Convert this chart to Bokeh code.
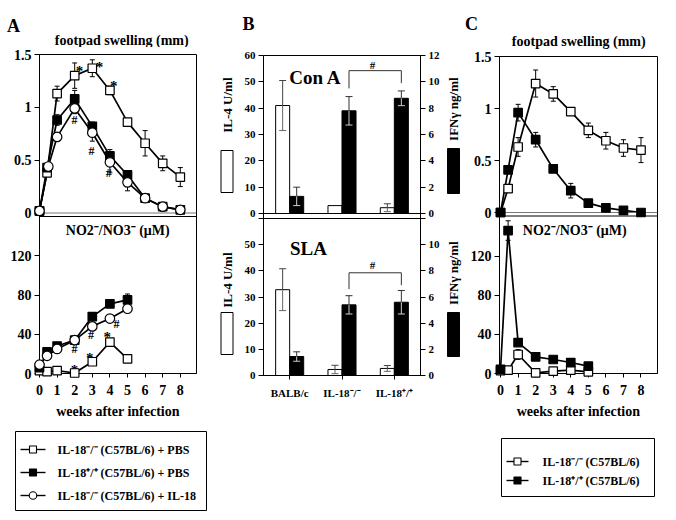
import math
from bokeh.plotting import figure
from bokeh.models import (Range1d, FactorRange, LinearAxis, FixedTicker, Whisker, TeeHead,
                          Label, Span, BoxAnnotation, ColumnDataSource)
from bokeh.layouts import row, column
from bokeh.core.properties import value
from bokeh.embed import file_html
from bokeh.resources import INLINE

FONT = "Liberation Serif"

# ------------------------------------------------------------------ data
weeks = [0, 0.43, 1, 2, 3, 4, 5, 6, 7, 8]
weeks_il18 = [0, 0.5, 1, 2, 3, 4, 5, 6, 7, 8]
weeks_no = [0, 0.43, 1, 2, 3, 4, 5]
week_ticks = [0, 1, 2, 3, 4, 5, 6, 7, 8]
fp_ticks = [0, 0.5, 1, 1.5]
fp_tick_labels = ["0", "0.5", "1", "1.5"]
no_ticks = [0, 40, 80, 120]
no_tick_labels = ["0", "40", "80", "120"]

# Panel A - footpad swelling (mm)
a_fp_ko_pbs = [0.02, 0.38, 1.13, 1.30, 1.37, 1.16, 0.86, 0.66, 0.47, 0.34]
a_fp_ko_pbs_err = [0.0, 0.03, 0.07, 0.12, 0.08, 0.04, 0.03, 0.12, 0.07, 0.09]
a_fp_wt_pbs = [0.02, 0.43, 0.88, 1.08, 0.82, 0.54, 0.36, 0.14, 0.06, 0.03]
a_fp_wt_pbs_err = [0.0, 0.02, 0.05, 0.08, 0.04, 0.06, 0.03, 0.02, 0.01, 0.01]
a_fp_ko_il18 = [0.02, 0.44, 0.72, 0.99, 0.76, 0.48, 0.29, 0.14, 0.06, 0.03]
a_fp_ko_il18_err = [0.0, 0.02, 0.04, 0.05, 0.08, 0.10, 0.08, 0.02, 0.01, 0.01]
# Panel A - NO2-/NO3- (uM)
a_no_ko_pbs = [3, 2, 3, 0.5, 12, 32, 15]
a_no_ko_pbs_err = [0, 0, 0, 0, 1, 2, 1]
a_no_wt_pbs = [6, 22, 28, 34, 58, 71, 75]
a_no_wt_pbs_err = [0, 1, 1, 2, 2, 2, 6]
a_no_ko_il18 = [9, 18, 25, 34, 48, 56, 66]
a_no_ko_il18_err = [0, 1, 1, 1, 2, 2, 2]
# significance marks in panel A
a_fp_star_x = [2.27, 3.41, 4.22]
a_fp_star_y = [1.38, 1.42, 1.24]
a_fp_hash_x = [1.99, 2.95, 3.94]
a_fp_hash_y = [0.88, 0.59, 0.38]
a_no_star_x = [1.99, 2.86, 3.85]
a_no_star_y = [8, 20, 41]
a_no_hash_x = [1.99, 2.93, 4.38]
a_no_hash_y = [25, 39, 50]

# Panel B - cytokines (IL-4 U/ml, IFN-gamma ng/ml)
b_cats = ["BALB/c", "IL-18\u207b/\u207b", "IL-18\u207a/\u207a"]
b_cona_il4 = [41.0, 3.0, 2.2]
b_cona_il4_err = [9.5, 0.0, 1.5]
b_cona_ifn = [1.3, 7.8, 8.75]
b_cona_ifn_err = [0.7, 1.08, 0.56]
b_sla_il4 = [32.8, 2.3, 2.7]
b_sla_il4_err = [8.0, 1.6, 1.1]
b_sla_ifn = [1.45, 5.4, 5.6]
b_sla_ifn_err = [0.36, 0.7, 0.9]
b_cona_bracket = [9.5, 10.85, 10.85, 9.9]
b_sla_bracket = [6.6, 7.85, 7.85, 6.9]
il4_ticks = [0, 10, 20, 30, 40, 50, 60]
ifn_ticks = [0, 2, 4, 6, 8, 10, 12]

# Panel C
c_fp_ko = [0.0, 0.23, 0.63, 1.24, 1.14, 0.97, 0.79, 0.69, 0.62, 0.60]
c_fp_ko_err = [0.0, 0.03, 0.09, 0.13, 0.07, 0.03, 0.07, 0.08, 0.08, 0.12]
c_fp_wt = [0.0, 0.41, 0.96, 0.70, 0.42, 0.21, 0.09, 0.045, 0.02, 0.0]
c_fp_wt_err = [0.0, 0.02, 0.08, 0.07, 0.03, 0.07, 0.02, 0.01, 0.01, 0.01]
c_no_ko = [3, 3.4, 19.4, 0.7, 2.4, 3.4, 1.7]
c_no_ko_err = [0, 0, 5, 0, 1, 1, 1]
c_no_wt = [4.3, 146, 31.6, 17, 14.3, 11.2, 7.5]
c_no_wt_err = [0, 10, 3, 2, 2, 2, 2]

lab_ko_pbs = "IL-18\u207b/\u207b (C57BL/6) + PBS"
lab_wt_pbs = "IL-18\u207a/\u207a (C57BL/6) + PBS"
lab_ko_il18 = "IL-18\u207b/\u207b (C57BL/6) + IL-18"
lab_ko = "IL-18\u207b/\u207b (C57BL/6)"
lab_wt = "IL-18\u207a/\u207a (C57BL/6)"


# ------------------------------------------------------------------ helpers
class Sub:
    """one stacked sub-panel inside a shared frame (zero pixel row, px per unit)"""
    def __init__(self, zero_px, ppu, fb, ft):
        self.zero, self.ppu, self.fb, self.ft = zero_px, ppu, fb, ft

    def u(self, v):  # value -> primary axis units (pixels above frame bottom)
        return (self.fb - self.zero) + v * self.ppu

    def rng(self):
        start = -(self.fb - self.zero) / self.ppu
        return Range1d(start, start + (self.fb - self.ft) / self.ppu)


class XMap:
    def __init__(self, l, r, x0, x1):
        self.l, self.r, self.x0, self.x1 = l, r, x0, x1

    def x(self, px):
        return self.x0 + (px - self.l) / (self.r - self.l) * (self.x1 - self.x0)


def unalign(p):
    try:
        p.frame_align = False
    except Exception:
        pass


def make_fig(w, h, ml, mr, mt, mb, x_range):
    p = figure(width=w, height=h, x_range=x_range, y_range=Range1d(0, h - mt - mb + 0.01),
               output_backend="svg", toolbar_location=None, title=None,
               min_border_left=ml, min_border_right=mr,
               min_border_top=mt, min_border_bottom=mb)
    p.grid.visible = False
    p.outline_line_color = "black"
    p.outline_line_alpha = 1
    p.outline_line_width = 1
    p.background_fill_color = "white"
    p.border_fill_color = "white"
    unalign(p)
    return p


def text_fig(x0, y0, w, h):
    """a plain strip whose data units are page pixels (y stored negated: y = -py)"""
    p = figure(width=w, height=h, x_range=Range1d(x0, x0 + w), y_range=Range1d(-(y0 + h), -y0),
               output_backend="svg", toolbar_location=None, title=None,
               x_axis_location=None, y_axis_location=None,
               min_border_left=0, min_border_right=0, min_border_top=0, min_border_bottom=0)
    p.grid.visible = False
    p.outline_line_color = None
    p.background_fill_color = "white"
    p.border_fill_color = "white"
    unalign(p)
    return p


def style_axis(ax, size, tick_out=5, standoff=3):
    ax.major_label_text_font = FONT
    ax.major_label_text_font_style = "bold"
    ax.major_label_text_font_size = size
    ax.major_label_text_color = "black"
    ax.minor_tick_line_color = None
    ax.major_tick_out = tick_out
    ax.major_tick_in = 0
    ax.axis_line_color = "black"
    ax.major_tick_line_color = "black"
    ax.major_label_standoff = standoff
    ax.axis_label_text_font = FONT
    ax.axis_label_text_font_style = "bold"
    ax.axis_label_text_font_size = "14px"
    ax.axis_label_text_color = "black"


def stacked_ticks(ax, parts):
    ticks, over = [], {}
    for sub, vals, labs in parts:
        for v, lab in zip(vals, labs):
            t = sub.u(v)
            ticks.append(t)
            over[t] = lab
    ax.ticker = FixedTicker(ticks=ticks)
    ax.major_label_overrides = over


def add_text(p, x, y, text, size, angle=0.0, style="bold", align="center"):
    p.add_layout(Label(x=x, y=y, text=text, text_font=FONT, text_font_style=style,
                       text_font_size=size, text_align=align, text_baseline="middle",
                       angle=angle, text_color="black"))


def page_text(p, px, py, text, size, angle=0.0, align="center"):
    add_text(p, px, -py, text, size, angle=angle, align=align)


def page_box(p, l, r, t, b, fill, level="annotation"):
    p.add_layout(BoxAnnotation(left=l, right=r, top=-t, bottom=-b, fill_color=fill,
                               fill_alpha=1, line_color="black", line_alpha=1, line_width=1,
                               level=level))


def series(p, xs, ys, errs, marker, fill, size, rn):
    up = [y + e for y, e in zip(ys, errs)]
    lo = [y - e for y, e in zip(ys, errs)]
    src = ColumnDataSource(dict(x=xs, y=ys, up=up, lo=lo))
    p.add_layout(Whisker(source=src, base="x", upper="up", lower="lo", dimension="height",
                         line_color="black", line_width=1, y_range_name=rn,
                         upper_head=TeeHead(size=5, line_color="black", line_width=1),
                         lower_head=TeeHead(size=5, line_color="black", line_width=1)))
    p.line("x", "y", source=src, line_color="black", line_width=1.7, y_range_name=rn)
    sc = p.scatter("x", "y", source=src, marker=marker, size=size, fill_color=fill,
                   line_color="black", line_width=1.2, y_range_name=rn)
    sc.level = "overlay"


def sig(p, xs, ys, sym, size, yoff, rn):
    src = ColumnDataSource(dict(x=xs, y=ys, t=[sym] * len(xs)))
    p.text("x", "y", text="t", source=src, text_font=value(FONT), text_font_style="bold",
           text_font_size=size, text_align="center", text_baseline="middle",
           y_offset=yoff, text_color="black", y_range_name=rn)


def legend_fig(x0, y0, w, h, entries, box, rows_y, glyph_x, text_x):
    """a key drawn in page-pixel units: box, line+marker swatches and labels"""
    p = text_fig(x0, y0, w, h)
    page_box(p, box[0], box[1], box[2], box[3], "white", level="underlay")
    for (lab, marker, fill, size), yy in zip(entries, rows_y):
        seg = p.segment(x0=[glyph_x[0]], y0=[-yy], x1=[glyph_x[1]], y1=[-yy],
                        line_color="black", line_width=1.4)
        seg.level = "overlay"
        mk = p.scatter(x=[(glyph_x[0] + glyph_x[1]) / 2], y=[-yy], marker=marker, size=size,
                       fill_color=fill, line_color="black", line_width=1.1)
        mk.level = "overlay"
        page_text(p, text_x, yy, lab, "12px", align="left")
    return p


# ------------------------------------------------------------------ panel A (x 0..216)
A_FT, A_FB = 54, 373
ax_a = XMap(39, 196, 0, 8.92)
sa_fp = Sub(212.5, (212.5 - A_FT) / 1.5, A_FB, A_FT)
sa_no = Sub(373, 0.98125, A_FB, A_FT)

ta = text_fig(0, 0, 216, 47)
page_text(ta, 13, 25, "A", "18px")
page_text(ta, 123, 40, "footpad swelling  (mm)", "14px")

pa = make_fig(216, 381, 39, 20, A_FT - 47, 428 - A_FB, Range1d(ax_a.x0, ax_a.x1))
pa.extra_y_ranges = {"fp": sa_fp.rng(), "no": sa_no.rng()}
style_axis(pa.yaxis[0], "14px")
style_axis(pa.xaxis[0], "14px", tick_out=4, standoff=7)
stacked_ticks(pa.yaxis[0], [(sa_fp, fp_ticks, fp_tick_labels), (sa_no, no_ticks, no_tick_labels)])
pa.xaxis.ticker = FixedTicker(ticks=week_ticks)
pa.xaxis.axis_label = "weeks after infection"
pa.xaxis.axis_label_standoff = 6
pa.add_layout(Span(location=0, dimension="width", line_color="#777777", line_width=1,
                   y_range_name="fp"))
pa.add_layout(Span(location=160, dimension="width", line_color="black", line_width=1,
                   y_range_name="no"))
series(pa, weeks, a_fp_ko_pbs, a_fp_ko_pbs_err, "square", "white", 8.5, "fp")
series(pa, weeks, a_fp_wt_pbs, a_fp_wt_pbs_err, "square", "black", 8.5, "fp")
series(pa, weeks_il18, a_fp_ko_il18, a_fp_ko_il18_err, "circle", "white", 9.5, "fp")
sig(pa, a_fp_star_x, a_fp_star_y, "*", "15px", 4, "fp")
sig(pa, a_fp_hash_x, a_fp_hash_y, "#", "12px", 0, "fp")
series(pa, weeks_no, a_no_ko_pbs, a_no_ko_pbs_err, "square", "white", 8.5, "no")
series(pa, weeks_no, a_no_wt_pbs, a_no_wt_pbs_err, "square", "black", 8.5, "no")
series(pa, weeks_no, a_no_ko_il18, a_no_ko_il18_err, "circle", "white", 9.5, "no")
sig(pa, a_no_star_x, a_no_star_y, "*", "15px", 4, "no")
sig(pa, a_no_hash_x, a_no_hash_y, "#", "12px", 0, "no")
add_text(pa, ax_a.x(119), A_FB - 230, "NO2\u207b/NO3\u207b  (\u03bcM)", "14px")

la = legend_fig(0, 428, 216, 92,
                [(lab_ko_pbs, "square", "white", 7), (lab_wt_pbs, "square", "black", 7),
                 (lab_ko_il18, "circle", "white", 7.5)],
                (15, 206, 431, 510), [449, 472, 495], (20, 45), 57)

col_a = column(ta, pa, la)

# ------------------------------------------------------------------ panel B (x 216..464)
B_FT, B_FB = 55, 375
ax_b = XMap(263, 420, 0, 3)
sb_il4_t = Sub(213, (213 - B_FT) / 60, B_FB, B_FT)
sb_ifn_t = Sub(213, (213 - B_FT) / 12, B_FB, B_FT)
sb_il4_b = Sub(375, (375 - 218) / 60, B_FB, B_FT)
sb_ifn_b = Sub(375, (375 - 218) / 12, B_FB, B_FT)

tb = text_fig(238, 0, 206, 47)
page_text(tb, 248, 23, "B", "18px")

pb = make_fig(206, 473, 263 - 238, 444 - 420, B_FT - 47, 520 - B_FB, FactorRange(*b_cats))
pb.extra_y_ranges = {"il4_t": sb_il4_t.rng(), "ifn_t": sb_ifn_t.rng(),
                     "il4_b": sb_il4_b.rng(), "ifn_b": sb_ifn_b.rng()}
pb.add_layout(LinearAxis(), "right")
style_axis(pb.yaxis[0], "11px", tick_out=5, standoff=3)
style_axis(pb.yaxis[1], "11px", tick_out=5, standoff=3)
style_axis(pb.xaxis[0], "11px", tick_out=4, standoff=7)
il4_labels_t = [str(v) for v in il4_ticks]
il4_labels_b = il4_labels_t[:-1] + [""]
ifn_labels_t = [str(v) for v in ifn_ticks]
ifn_labels_b = ifn_labels_t[:-1] + [""]
stacked_ticks(pb.yaxis[0], [(sb_il4_t, il4_ticks, il4_labels_t), (sb_il4_b, il4_ticks, il4_labels_b)])
stacked_ticks(pb.yaxis[1], [(sb_ifn_t, ifn_ticks, ifn_labels_t), (sb_ifn_b, ifn_ticks, ifn_labels_b)])
pb.add_layout(Span(location=0, dimension="width", line_color="black", line_width=1,
                   y_range_name="il4_t"))
pb.add_layout(Span(location=60, dimension="width", line_color="black", line_width=1,
                   y_range_name="il4_b"))

BW = 0.268
white_x = [i + 0.5 - BW / 2 for i in range(len(b_cats))]
black_x = [i + 0.5 + BW / 2 for i in range(len(b_cats))]


def bar_panel(p, il4, il4_err, ifn, ifn_err, bracket, rn_il4, rn_ifn):
    p.vbar(x=white_x, top=il4, bottom=0, width=BW, fill_color="white",
           line_color="black", line_width=1, y_range_name=rn_il4)
    p.vbar(x=black_x, top=ifn, bottom=0, width=BW, fill_color="black",
           line_color="black", line_width=1, y_range_name=rn_ifn)
    for xs, ys, es, cu, cd, rn in ((white_x, il4, il4_err, "#444444", "#666666", rn_il4),
                                   (black_x, ifn, ifn_err, "#333333", "#cfcfcf", rn_ifn)):
        keep = [i for i, e in enumerate(es) if e > 0]
        src = ColumnDataSource(dict(x=[xs[i] for i in keep], m=[ys[i] for i in keep],
                                    hi=[ys[i] + es[i] for i in keep],
                                    lo=[ys[i] - es[i] for i in keep]))
        p.add_layout(Whisker(source=src, base="x", lower="m", upper="hi", dimension="height",
                             line_color=cu, line_width=1, level="overlay", y_range_name=rn,
                             upper_head=TeeHead(size=7, line_color=cu, line_width=1),
                             lower_head=None))
        p.add_layout(Whisker(source=src, base="x", lower="lo", upper="m", dimension="height",
                             line_color=cd, line_width=1, level="overlay", y_range_name=rn,
                             lower_head=TeeHead(size=7, line_color=cd, line_width=1),
                             upper_head=None))
    bx = [black_x[1], black_x[1], black_x[2], black_x[2]]
    p.line(x=bx, y=bracket, line_color="#333333", line_width=1, y_range_name=rn_ifn)


bar_panel(pb, b_cona_il4, b_cona_il4_err, b_cona_ifn, b_cona_ifn_err, b_cona_bracket,
          "il4_t", "ifn_t")
bar_panel(pb, b_sla_il4, b_sla_il4_err, b_sla_ifn, b_sla_ifn_err, b_sla_bracket,
          "il4_b", "ifn_b")
add_text(pb, ax_b.x(315), B_FB - 77, "Con A", "19px")
add_text(pb, ax_b.x(372), B_FB - 64, "#", "11px")
add_text(pb, ax_b.x(308), B_FB - 248, "SLA", "19px")
add_text(pb, ax_b.x(372), B_FB - 264, "#", "11px")

tbl = text_fig(216, 0, 22, 520)
tbr = text_fig(444, 0, 20, 520)
for ty_l, ry_l, ty_r, ry_r in ((103, (150, 192), 107, (148, 193)),
                               (278, (312, 354), 271, (312, 356))):
    page_text(tbl, 226.5, ty_l, "IL-4  U/ml", "13px", angle=math.pi / 2)
    page_box(tbl, 220.5, 232.5, ry_l[0], ry_l[1], "white")
    page_text(tbr, 452.5, ty_r, "IFN\u03b3  ng/ml", "13px", angle=math.pi / 2)
    page_box(tbr, 447, 459, ry_r[0], ry_r[1], "black")

col_b = row(tbl, column(tb, pb), tbr)

# ------------------------------------------------------------------ panel C (x 464..676)
C_FT, C_FB = 56, 373
ax_c = XMap(499, 657, -0.06, 8.94)
sc_fp = Sub(212, (212 - C_FT) / 1.5, C_FB, C_FT)
sc_no = Sub(373, 0.979, C_FB, C_FT)

tc = text_fig(464, 0, 212, 49)
page_text(tc, 471, 23, "C", "18px")
page_text(tc, 580, 41, "footpad swelling  (mm)", "14px")

pc = make_fig(212, 379, 499 - 464, 676 - 657, C_FT - 49, 428 - C_FB, Range1d(ax_c.x0, ax_c.x1))
pc.extra_y_ranges = {"fp": sc_fp.rng(), "no": sc_no.rng()}
style_axis(pc.yaxis[0], "14px")
style_axis(pc.xaxis[0], "14px", tick_out=4, standoff=7)
stacked_ticks(pc.yaxis[0], [(sc_fp, fp_ticks, fp_tick_labels), (sc_no, no_ticks, no_tick_labels)])
pc.xaxis.ticker = FixedTicker(ticks=week_ticks)
pc.xaxis.axis_label = "weeks after infection"
pc.xaxis.axis_label_standoff = 6
pc.add_layout(Span(location=0, dimension="width", line_color="#777777", line_width=1,
                   y_range_name="fp"))
pc.add_layout(Span(location=C_FB - 215.5, dimension="width", line_color="black", line_width=1))
series(pc, weeks, c_fp_ko, c_fp_ko_err, "square", "white", 8.5, "fp")
series(pc, weeks, c_fp_wt, c_fp_wt_err, "square", "black", 8.5, "fp")
series(pc, weeks_no, c_no_ko, c_no_ko_err, "square", "white", 8.5, "no")
series(pc, weeks_no, c_no_wt, c_no_wt_err, "square", "black", 8.5, "no")
add_text(pc, ax_c.x(576), C_FB - 230, "NO2\u207b/NO3\u207b  (\u03bcM)", "14px")

lc = legend_fig(464, 428, 212, 92,
                [(lab_ko, "square", "white", 7), (lab_wt, "square", "black", 7)],
                (501, 654, 438, 496), [461, 480], (506, 528), 542)

col_c = column(tc, pc, lc)

layout = row(col_a, col_b, col_c)

with open("out.html", "w") as f:
    f.write(file_html(layout, INLINE, "figure"))
